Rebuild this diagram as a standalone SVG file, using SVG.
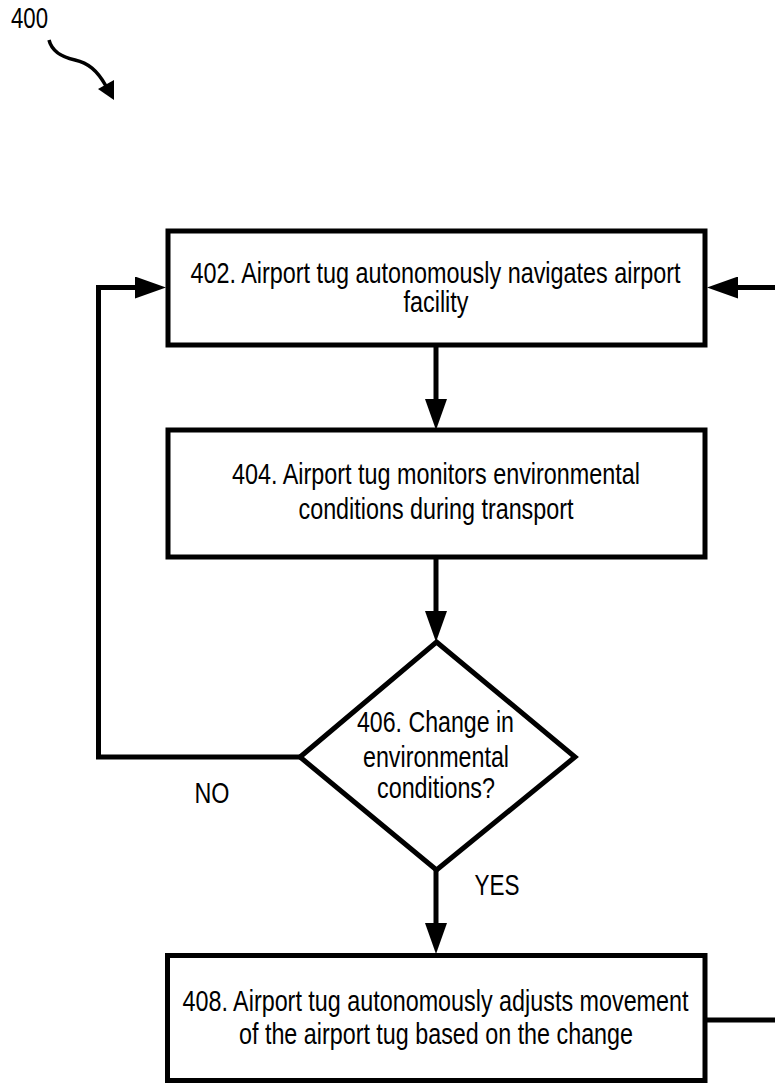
<svg xmlns="http://www.w3.org/2000/svg" width="775" height="1084" viewBox="0 0 775 1084">
  <style>
    .box { fill: #fff; stroke: #000; stroke-width: 5; }
    .wire { fill: none; stroke: #000; stroke-width: 5; }
    .lbl { font-family: "Liberation Sans Narrow", "Arial Narrow", "Liberation Sans", Arial, sans-serif; font-size: 29px; fill: #000; text-anchor: middle; }
    .ref { text-anchor: start; }
  </style>
  <defs>
    <marker id="arrow" viewBox="0 0 31 22" refX="16" refY="11" markerWidth="31" markerHeight="22" markerUnits="userSpaceOnUse" orient="auto">
      <path d="M0,0 L31,11 L0,22 Z" fill="#000"/>
    </marker>
  </defs>

  <!-- figure reference number with curved pointer -->
  <g id="ref400">
    <text class="lbl ref" x="11" y="28" textLength="37" lengthAdjust="spacingAndGlyphs">400</text>
    <path class="wire" style="stroke-width:3.5" d="M49,40 C52,52 62,57 75,60 C88,63 97,70 106,86"/>
    <polygon points="98,89 114,80 114,100" fill="#000"/>
  </g>

  <!-- connectors -->
  <g id="connectors">
    <line class="wire" x1="436" y1="345" x2="436" y2="415" marker-end="url(#arrow)"/>
    <line class="wire" x1="436" y1="557" x2="436" y2="627" marker-end="url(#arrow)"/>
    <line class="wire" x1="436" y1="870" x2="436" y2="939" marker-end="url(#arrow)"/>
    <polyline class="wire" points="300,757 98.5,757 98.5,287.5 151,287.5" marker-end="url(#arrow)"/>
    <line class="wire" x1="705" y1="1020" x2="780" y2="1020"/>
    <line class="wire" x1="780" y1="287.5" x2="722" y2="287.5" marker-end="url(#arrow)"/>
    <text class="lbl" x="212" y="803" textLength="35" lengthAdjust="spacingAndGlyphs">NO</text>
    <text class="lbl" x="497" y="895" textLength="45" lengthAdjust="spacingAndGlyphs">YES</text>
  </g>

  <!-- 402 -->
  <g id="step402">
    <rect class="box" x="168" y="231" width="537" height="114"/>
    <text class="lbl" x="435.5" y="283" textLength="490" lengthAdjust="spacingAndGlyphs">402. Airport tug autonomously navigates airport</text>
    <text class="lbl" x="436" y="312" textLength="65" lengthAdjust="spacingAndGlyphs">facility</text>
  </g>

  <!-- 404 -->
  <g id="step404">
    <rect class="box" x="168" y="430" width="537" height="127"/>
    <text class="lbl" x="436" y="484" textLength="408" lengthAdjust="spacingAndGlyphs">404. Airport tug monitors environmental</text>
    <text class="lbl" x="436" y="519" textLength="275" lengthAdjust="spacingAndGlyphs">conditions during transport</text>
  </g>

  <!-- 406 decision -->
  <g id="step406">
    <polygon class="box" points="436.5,642 575,757 436.5,870 300,757"/>
    <text class="lbl" x="435.5" y="732" textLength="157" lengthAdjust="spacingAndGlyphs">406. Change in</text>
    <text class="lbl" x="436" y="767" textLength="146" lengthAdjust="spacingAndGlyphs">environmental</text>
    <text class="lbl" x="436" y="798" textLength="118" lengthAdjust="spacingAndGlyphs">conditions?</text>
  </g>

  <!-- 408 -->
  <g id="step408">
    <rect class="box" x="167.5" y="955.5" width="537.5" height="125"/>
    <text class="lbl" x="435.5" y="1011" textLength="506" lengthAdjust="spacingAndGlyphs">408. Airport tug autonomously adjusts movement</text>
    <text class="lbl" x="436" y="1044" textLength="394" lengthAdjust="spacingAndGlyphs">of the airport tug based on the change</text>
  </g>
</svg>
